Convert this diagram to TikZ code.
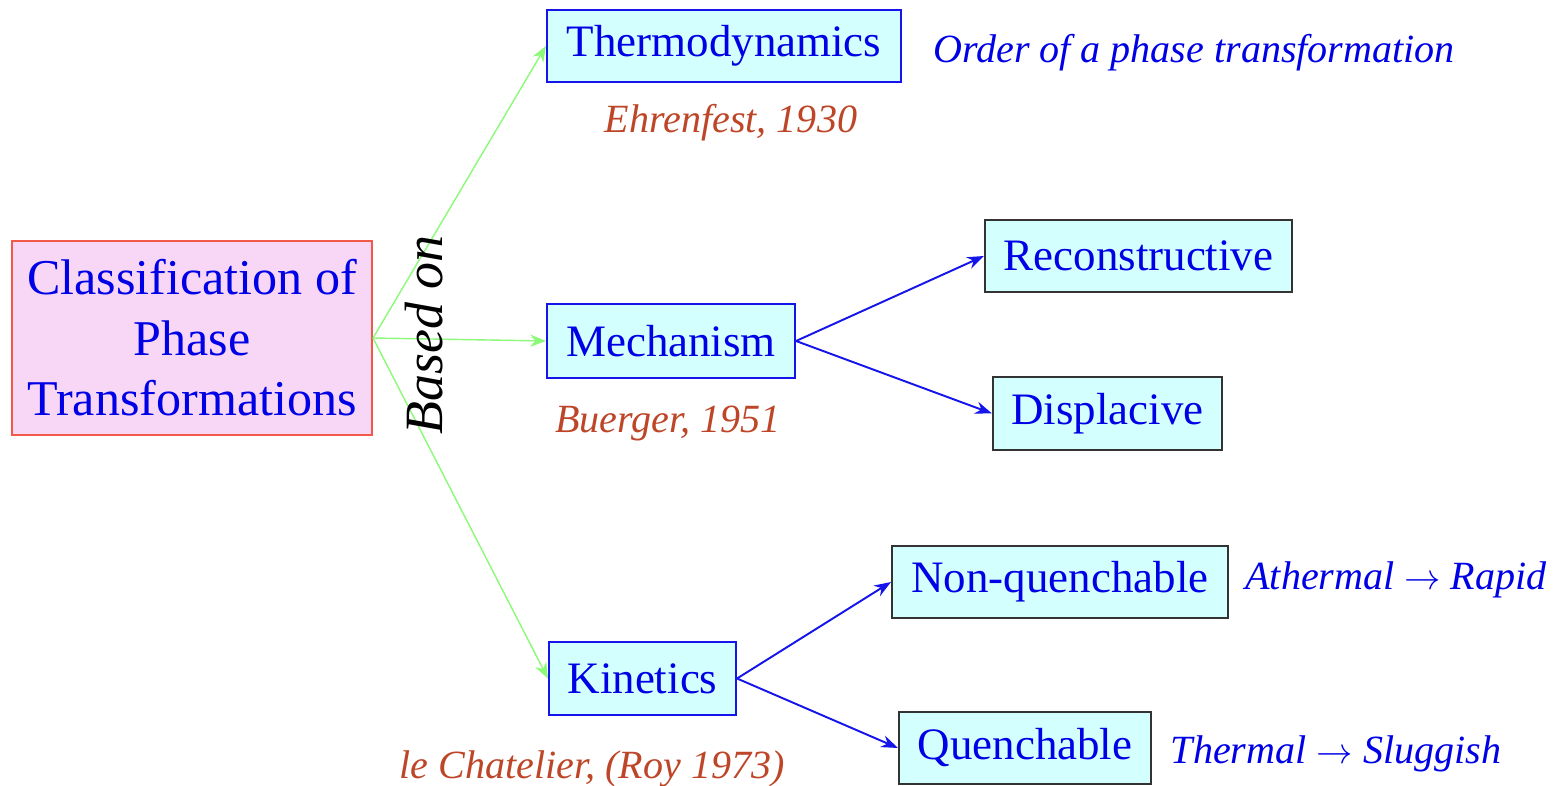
\documentclass[tikz,border=0pt]{standalone}
\usepackage{fontspec}
\setmainfont{Liberation Serif}
\usetikzlibrary{arrows.meta}
\definecolor{boxblue}{RGB}{20,20,235}
\definecolor{boxcyan}{RGB}{212,255,255}
\definecolor{txtblue}{RGB}{0,0,230}
\definecolor{mainpink}{RGB}{248,214,246}
\definecolor{mainred}{RGB}{240,90,70}
\definecolor{refbrown}{RGB}{190,70,40}
\definecolor{linkgreen}{RGB}{140,250,120}
\newcommand{\toarrow}{$\rightarrow$}
\tikzset{
    mainbox/.style={draw=mainred, line width=1.2pt, fill=mainpink, text=txtblue,
        minimum width=7.2cm, minimum height=3.88cm, align=center, inner sep=0pt,
        font=\fontsize{28.5}{34.5}\selectfont},
    topicbox/.style={draw=boxblue, line width=1.2pt, fill=boxcyan, text=txtblue,
        inner sep=0pt, font=\fontsize{25.6}{30}\selectfont},
    kindbox/.style={draw=black!80, line width=1.2pt, fill=boxcyan, text=txtblue,
        inner sep=0pt, font=\fontsize{25.6}{30}\selectfont},
    reflabel/.style={text=refbrown, font=\fontsize{22.8}{27}\selectfont\itshape},
    notelabel/.style={text=txtblue, font=\fontsize{22.8}{27}\selectfont\itshape},
    greenlink/.style={draw=linkgreen, line width=0.8pt, -{Stealth[length=9pt,width=7pt]}},
    bluelink/.style={draw=boxblue, line width=1.1pt, -{Stealth[length=9.5pt,width=7pt]}},
}
\begin{document}
\begin{tikzpicture}[x=0.02cm,y=-0.02cm]
\useasboundingbox (0,0) rectangle (1562,786);

\node[mainbox] (classif) at (192,338) {Classification of\\Phase\\Transformations};

\node[topicbox, minimum width=7.08cm, minimum height=1.44cm] (thermo) at (724,46) {Thermodynamics};
\node[topicbox, minimum width=4.96cm, minimum height=1.48cm] (mech) at (671,341) {Mechanism};
\node[topicbox, minimum width=3.74cm, minimum height=1.46cm] (kin) at (642.5,678.5) {Kinetics};

\node[kindbox, minimum width=6.14cm, minimum height=1.44cm] (recon) at (1138.5,256) {Reconstructive};
\node[kindbox, minimum width=4.58cm, minimum height=1.46cm] (disp) at (1107.5,413.5) {Displacive};
\node[kindbox, minimum width=6.72cm, minimum height=1.44cm] (nonq) at (1060,582) {Non-quenchable};
\node[kindbox, minimum width=5.04cm, minimum height=1.44cm] (quen) at (1025,748) {Quenchable};

\node[notelabel] (order) at (1194,53) {Order of a phase transformation};
\node[reflabel] (ehren) at (731,123) {Ehrenfest, 1930};
\node[reflabel] (buerger) at (668,424) {Buerger, 1951};
\node[reflabel] (chatelier) at (592,769) {le Chatelier, (Roy 1973)};
\node[notelabel] (athermal) at (1396,580) {Athermal \toarrow{} Rapid};
\node[notelabel] (thermal) at (1336,754) {Thermal \toarrow{} Sluggish};

\draw[greenlink] (classif.east) -- (thermo.west);
\draw[greenlink] (classif.east) -- (mech.west);
\draw[greenlink] (classif.east) -- (kin.west);

\node[rotate=90, font=\fontsize{30.7}{36}\selectfont\itshape] (basedon) at (424,335) {Based on};

\draw[bluelink] (mech.east) -- (recon.west);
\draw[bluelink] (mech.east) -- (disp.west);
\draw[bluelink] (kin.east) -- (nonq.west);
\draw[bluelink] (kin.east) -- (quen.west);
\end{tikzpicture}
\end{document}
